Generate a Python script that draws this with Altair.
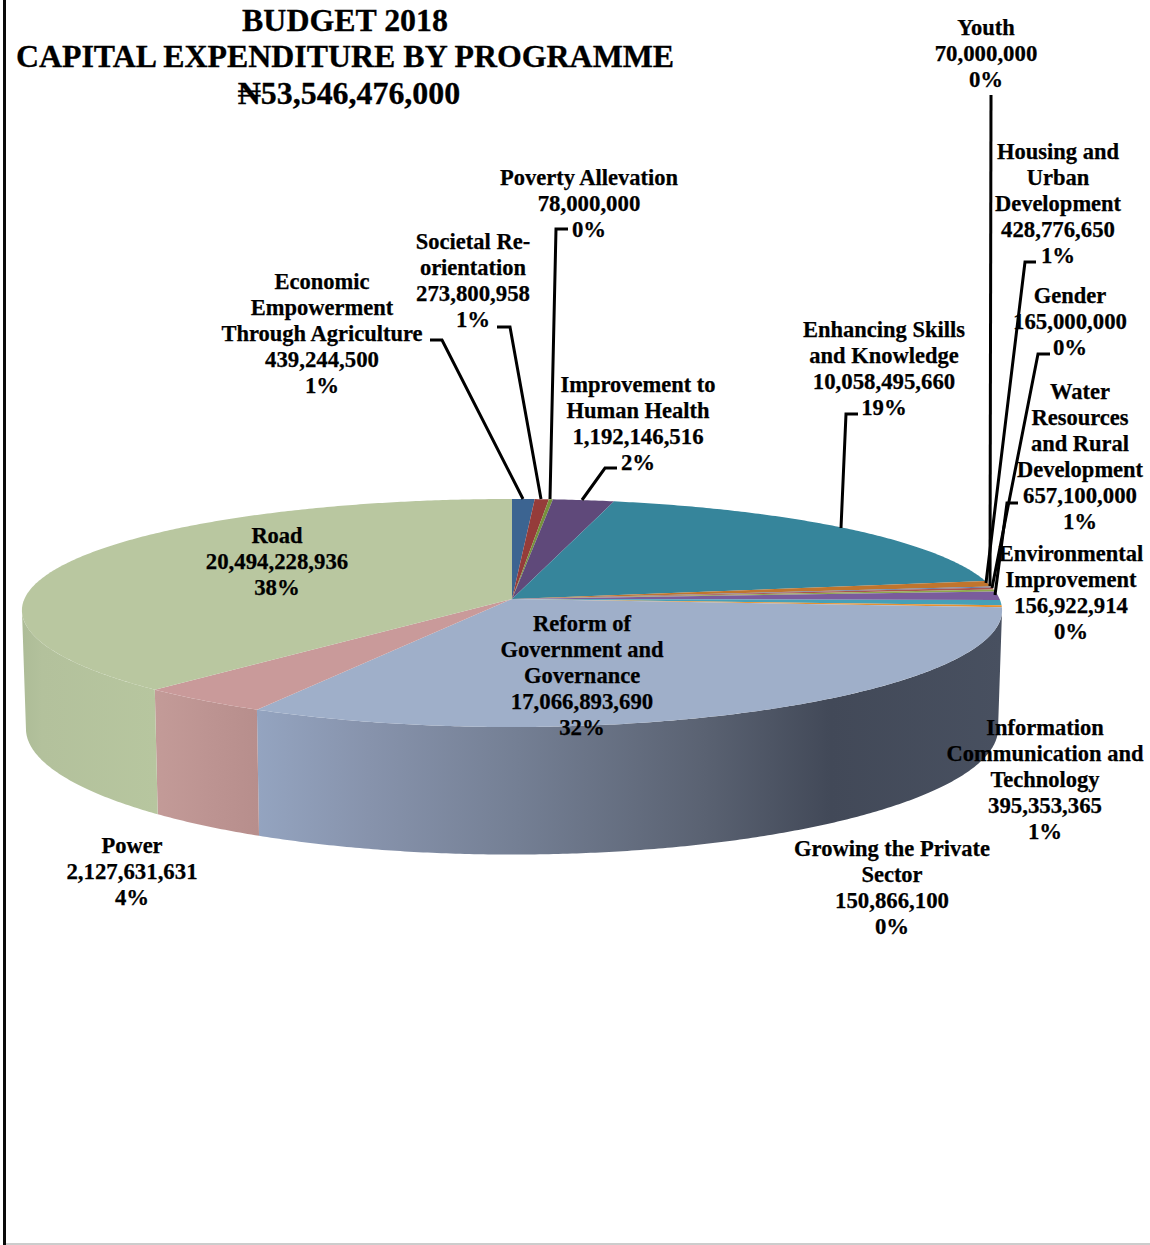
import math
import altair as alt
import pandas as pd

# Programmes in clockwise order from twelve o'clock
names = [
    ["Economic", "Empowerment", "Through Agriculture"],
    ["Societal Re-", "orientation"],
    ["Poverty Allevation"],
    ["Improvement to", "Human Health"],
    ["Enhancing Skills", "and Knowledge"],
    ["Housing and", "Urban", "Development"],
    ["Youth"],
    ["Gender"],
    ["Environmental", "Improvement"],
    ["Water", "Resources", "and Rural", "Development"],
    ["Information", "Communication and", "Technology"],
    ["Growing the Private", "Sector"],
    ["Reform of", "Government and", "Governance"],
    ["Power"],
    ["Road"],
]
values = [
    439244500, 273800958, 78000000, 1192146516, 10058495660,
    428776650, 70000000, 165000000, 156922914, 657100000,
    395353365, 150866100, 17066893690, 2127631631, 20494228936,
]
colors = [
    "#3c6491", "#953c3a", "#76923c", "#5f497a", "#36859b",
    "#c0752e", "#5d7ba8", "#a9534f", "#8fa84c", "#7a5c9c",
    "#45a0b8", "#e8912f", "#9fafc9", "#c99a9a", "#b9c7a0",
]
title_lines = ["BUDGET 2018", "CAPITAL EXPENDITURE BY PROGRAMME", "\u20a653,546,476,000"]

# Page layout: label anchors (centre x, first-line y)
label_anchor = [
    (322, 282), (473, 242), (589, 178), (638, 385), (884, 330),
    (1058, 152), (986, 28), (1070, 296), (1071, 554), (1080, 392),
    (1045, 728), (892, 849), (582, 624), (132, 846), (277, 536),
]
title_anchor = [(345, 21), (345, 57), (349, 94)]
leaders = [
    [(430, 340), (442, 340), (523, 499)],
    [(497, 327), (510, 327), (541, 499)],
    [(568, 229), (556, 229), (550, 499)],
    [(617, 468), (605, 468), (582, 500)],
    [(858, 414), (846, 414), (841, 528)],
    [(1036, 262), (1025, 262), (986, 583)],
    [(991, 95), (990, 586)],
    [(1050, 354), (1038, 354), (992, 588)],
    [(1018, 503), (1007, 503), (995, 595)],
]
LINE_H = 26

# Perspective disc geometry
CX, CY = 512, 599
K_Y, K_X = 0.1228, 0.1
A, B = 487.6, 112.3
A_LOW, B_LOW, CY_LOW = 483.6, 121.1, 716.5
VIS_FROM = math.degrees(math.acos(-K_X))
VIS_TO = 360 - VIS_FROM


def rim(deg, low=False):
    t = math.radians(deg)
    u, v = math.sin(t), math.cos(t)
    wx, wy = 1 + K_X * v, 1 + K_Y * v
    if low:
        return [CX + A_LOW * u / wx, CY_LOW - B_LOW * v / wy]
    return [CX + A * u / wx, CY - B * v / wy]


def arc_degrees(a, b):
    n = max(2, int((b - a) / 0.5) + 1)
    return [a + (b - a) * i / n for i in range(n + 1)]


def feature(ring, color):
    return {
        "type": "Feature",
        "properties": {"fill": color},
        "geometry": {"type": "Polygon", "coordinates": [ring + [ring[0]]]},
    }


total = sum(values)
edges = [0.0]
for val in values:
    edges.append(edges[-1] + val / total * 360)

tops = []
sides = {}
for i, col in enumerate(colors):
    a, b = edges[i], edges[i + 1]
    tops.append(feature([[CX, CY]] + [rim(d) for d in arc_degrees(a, b)], col))
    lo, hi = max(a, VIS_FROM), min(b, VIS_TO)
    if hi > lo:
        degs = arc_degrees(lo, hi)
        sides[i] = feature([rim(d) for d in degs] + [rim(d, True) for d in reversed(degs)], col)

projection = alt.Projection(type="identity", scale=1, translate=[0, 0])


def side_layer(index, stops):
    fill = alt.Gradient(
        gradient="linear", x1=0, x2=1, y1=0, y2=0,
        stops=[alt.GradientStop(offset=o, color=c) for o, c in stops],
    )
    return alt.Chart(alt.Data(values=[sides[index]])).mark_geoshape(
        fill=fill, strokeWidth=0
    ).project(**projection.to_dict())


side_layers = [
    side_layer(12, [(0, "#94a4c0"), (0.15, "#8793ac"), (0.35, "#747f94"),
                    (0.6, "#5a6272"), (0.77, "#424958"), (1, "#485060")]),
    side_layer(13, [(0, "#c39b98"), (0.5, "#bd9492"), (1, "#b78e8c")]),
    side_layer(14, [(0, "#adbc97"), (0.15, "#b3c19c"), (1, "#b7c69f")]),
]

top_layer = alt.Chart(alt.Data(values=tops)).mark_geoshape(strokeWidth=0).encode(
    fill=alt.Fill("properties.fill:N", scale=None)
).project(**projection.to_dict())

X = alt.Scale(domain=[0, 1150])
Y = alt.Scale(domain=[1245, 0])

rows = []
for i, val in enumerate(values):
    x0, y0 = label_anchor[i]
    worded = [(s, 22.5) for s in names[i]]
    figures = [(f"{val:,}", 22.8), (f"{round(val / total * 100)}%", 22.8)]
    for j, (s, size) in enumerate(worded + figures):
        rows.append({"x": x0, "y": y0 + j * LINE_H, "text": s, "size": size})
labels = alt.Chart(pd.DataFrame(rows)).mark_text(
    font="Liberation Serif", fontWeight="bold", color="black", baseline="middle",
    stroke="black", strokeWidth=0.25,
).encode(
    x=alt.X("x:Q", scale=X, axis=None),
    y=alt.Y("y:Q", scale=Y, axis=None),
    size=alt.Size("size:Q", scale=None),
    text="text:N",
)

title_df = pd.DataFrame(
    [{"x": p[0], "y": p[1], "text": s} for p, s in zip(title_anchor, title_lines)]
)
titles = alt.Chart(title_df).mark_text(
    font="Liberation Serif", fontWeight="bold", fontSize=31.9, color="black", baseline="middle",
    stroke="black", strokeWidth=0.3,
).encode(
    x=alt.X("x:Q", scale=X, axis=None),
    y=alt.Y("y:Q", scale=Y, axis=None),
    text="text:N",
)

leader_rows = [
    {"id": i, "step": j, "x": p[0], "y": p[1]}
    for i, path in enumerate(leaders) for j, p in enumerate(path)
]
leader_lines = alt.Chart(pd.DataFrame(leader_rows)).mark_line(
    color="black", strokeWidth=3, strokeJoin="miter"
).encode(
    x=alt.X("x:Q", scale=X, axis=None),
    y=alt.Y("y:Q", scale=Y, axis=None),
    detail="id:N",
    order="step:Q",
)

# Page frame: heavy left edge and thin grey bottom edge
frame_left = alt.Chart(pd.DataFrame({"x": [4.5], "y": [0], "y2": [1245]})).mark_rule(
    color="#0a0a0a", strokeWidth=3
).encode(
    x=alt.X("x:Q", scale=X, axis=None),
    y=alt.Y("y:Q", scale=Y, axis=None),
    y2="y2:Q",
)
frame_bottom = alt.Chart(pd.DataFrame({"x": [6], "x2": [1150], "y": [1244]})).mark_rule(
    color="#bbbbbb", strokeWidth=1.5
).encode(
    x=alt.X("x:Q", scale=X, axis=None),
    x2="x2:Q",
    y=alt.Y("y:Q", scale=Y, axis=None),
)

chart = alt.layer(
    frame_left, frame_bottom, *side_layers, top_layer, leader_lines, labels, titles
).properties(
    width=1150, height=1245, padding=0, background="white",
    autosize=alt.AutoSizeParams(type="none"),
).configure_view(strokeWidth=0)

chart.save("out.html", embed_options={"renderer": "svg", "actions": False})
